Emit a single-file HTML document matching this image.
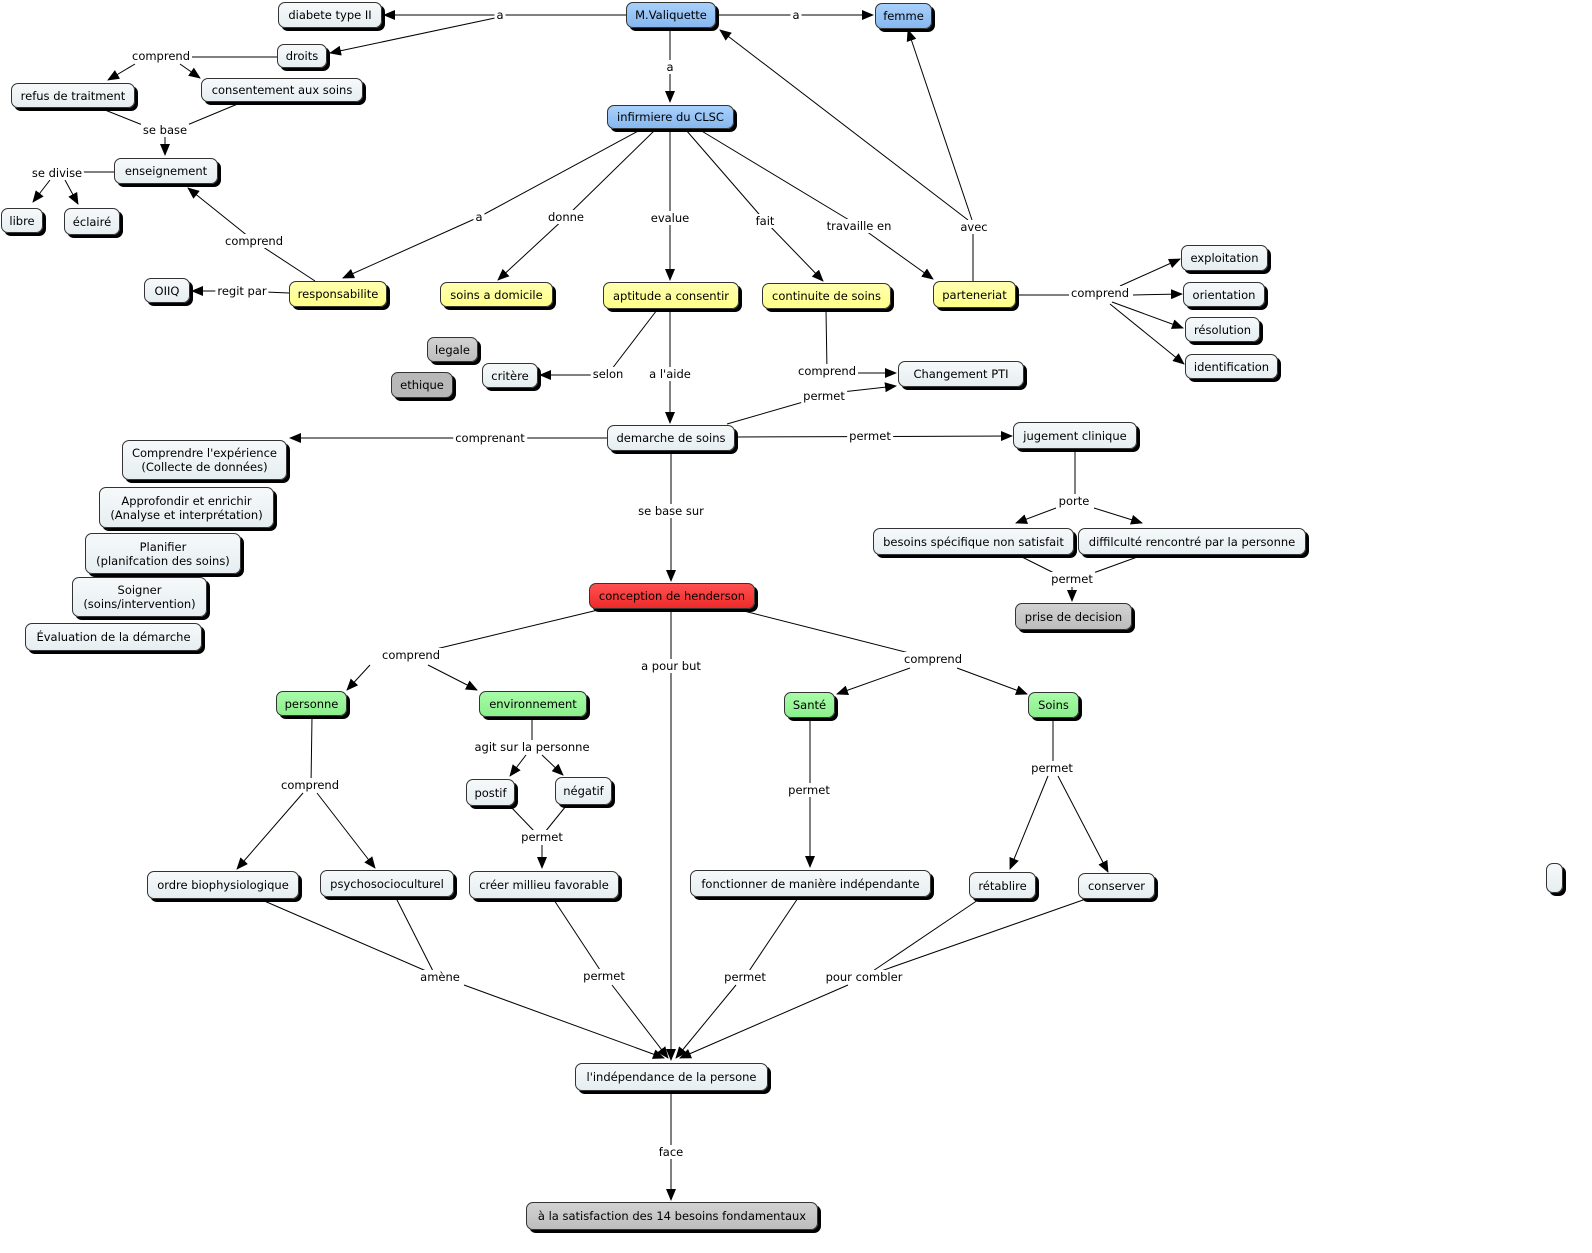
<!DOCTYPE html>
<html><head><meta charset="utf-8"><style>
body{margin:0;width:1592px;height:1253px;background:#fff;position:relative;overflow:hidden;font-family:"DejaVu Sans","Liberation Sans",sans-serif;font-size:11.5px;color:#000}
svg{position:absolute;left:0;top:0}
.n{position:absolute;box-sizing:border-box;border:1px solid #333;border-radius:7px;box-shadow:3px 3px 0 #000;display:flex;align-items:center;justify-content:center;text-align:center;line-height:14px;background:linear-gradient(#f6f9fa,#e6eef1);white-space:nowrap}
.b{background:linear-gradient(#a8d0fb,#86b8ef)}
.y{background:linear-gradient(#ffffb0,#ffff88)}
.g{background:linear-gradient(#a8fba8,#8bef8b)}
.r{background:linear-gradient(#ff5050,#ee2a2a)}
.gr{background:linear-gradient(#d2d2d2,#bdbdbd)}
.l{position:absolute;background:#fff;transform:translate(-50%,-50%);padding:0 2px;white-space:nowrap;line-height:14px}
</style></head><body>
<svg width="1592" height="1253">
<defs><marker id="a" markerUnits="userSpaceOnUse" markerWidth="12" markerHeight="10" refX="11" refY="5" orient="auto"><path d="M0,0L12,5L0,10z" fill="#000"/></marker></defs>
<g stroke="#000" stroke-width="1" fill="none">
<line x1="626" y1="15" x2="384" y2="15" marker-end="url(#a)"/>
<line x1="495" y1="18" x2="330" y2="53" marker-end="url(#a)"/>
<line x1="716" y1="15" x2="873" y2="15" marker-end="url(#a)"/>
<line x1="670" y1="29" x2="670" y2="102" marker-end="url(#a)"/>
<line x1="277" y1="57" x2="190" y2="57"/>
<line x1="135" y1="64" x2="108" y2="80" marker-end="url(#a)"/>
<line x1="180" y1="64" x2="200" y2="78" marker-end="url(#a)"/>
<line x1="100" y1="108" x2="150" y2="128"/>
<line x1="240" y1="103" x2="180" y2="128"/>
<line x1="165" y1="130" x2="165" y2="155" marker-end="url(#a)"/>
<line x1="114" y1="172" x2="60" y2="172"/>
<line x1="50" y1="180" x2="33" y2="202" marker-end="url(#a)"/>
<line x1="65" y1="180" x2="78" y2="204" marker-end="url(#a)"/>
<line x1="315" y1="281" x2="254" y2="241"/>
<line x1="254" y1="241" x2="188" y2="188" marker-end="url(#a)"/>
<line x1="289" y1="293" x2="242" y2="291"/>
<line x1="242" y1="291" x2="192" y2="291" marker-end="url(#a)"/>
<line x1="640" y1="130" x2="479" y2="217"/>
<line x1="479" y1="217" x2="343" y2="278" marker-end="url(#a)"/>
<line x1="655" y1="130" x2="566" y2="217"/>
<line x1="566" y1="217" x2="498" y2="280" marker-end="url(#a)"/>
<line x1="670" y1="130" x2="670" y2="280" marker-end="url(#a)"/>
<line x1="686" y1="130" x2="765" y2="221"/>
<line x1="765" y1="221" x2="823" y2="281" marker-end="url(#a)"/>
<line x1="700" y1="130" x2="859" y2="226"/>
<line x1="859" y1="226" x2="933" y2="279" marker-end="url(#a)"/>
<line x1="973" y1="281" x2="973" y2="227"/>
<line x1="968" y1="220" x2="720" y2="30" marker-end="url(#a)"/>
<line x1="972" y1="220" x2="908" y2="30" marker-end="url(#a)"/>
<line x1="1016" y1="295" x2="1100" y2="295"/>
<line x1="1120" y1="286" x2="1180" y2="259" marker-end="url(#a)"/>
<line x1="1133" y1="295" x2="1182" y2="294" marker-end="url(#a)"/>
<line x1="1112" y1="302" x2="1183" y2="328" marker-end="url(#a)"/>
<line x1="1110" y1="304" x2="1184" y2="364" marker-end="url(#a)"/>
<line x1="657" y1="310" x2="608" y2="374"/>
<line x1="608" y1="375" x2="540" y2="375" marker-end="url(#a)"/>
<line x1="670" y1="310" x2="670" y2="423" marker-end="url(#a)"/>
<line x1="826" y1="310" x2="827" y2="371"/>
<line x1="827" y1="373" x2="896" y2="373" marker-end="url(#a)"/>
<line x1="727" y1="424" x2="824" y2="396"/>
<line x1="824" y1="394" x2="896" y2="386" marker-end="url(#a)"/>
<line x1="607" y1="438" x2="290" y2="438" marker-end="url(#a)"/>
<line x1="735" y1="437" x2="1012" y2="436" marker-end="url(#a)"/>
<line x1="1075" y1="450" x2="1075" y2="500"/>
<line x1="1056" y1="508" x2="1016" y2="523" marker-end="url(#a)"/>
<line x1="1094" y1="508" x2="1142" y2="523" marker-end="url(#a)"/>
<line x1="1020" y1="556" x2="1060" y2="576"/>
<line x1="1140" y1="556" x2="1085" y2="576"/>
<line x1="1072" y1="587" x2="1072" y2="601" marker-end="url(#a)"/>
<line x1="671" y1="452" x2="671" y2="581" marker-end="url(#a)"/>
<line x1="598" y1="610" x2="411" y2="655"/>
<line x1="370" y1="665" x2="347" y2="690" marker-end="url(#a)"/>
<line x1="428" y1="665" x2="477" y2="690" marker-end="url(#a)"/>
<line x1="671" y1="610" x2="671" y2="1060" marker-end="url(#a)"/>
<line x1="740" y1="610" x2="933" y2="659"/>
<line x1="910" y1="668" x2="837" y2="694" marker-end="url(#a)"/>
<line x1="957" y1="668" x2="1027" y2="694" marker-end="url(#a)"/>
<line x1="312" y1="717" x2="311" y2="785"/>
<line x1="303" y1="793" x2="237" y2="869" marker-end="url(#a)"/>
<line x1="317" y1="793" x2="375" y2="868" marker-end="url(#a)"/>
<line x1="532" y1="718" x2="532" y2="745"/>
<line x1="526" y1="755" x2="510" y2="776" marker-end="url(#a)"/>
<line x1="542" y1="755" x2="563" y2="775" marker-end="url(#a)"/>
<line x1="510" y1="806" x2="535" y2="832"/>
<line x1="566" y1="806" x2="545" y2="832"/>
<line x1="542" y1="845" x2="542" y2="868" marker-end="url(#a)"/>
<line x1="810" y1="719" x2="810" y2="867" marker-end="url(#a)"/>
<line x1="1053" y1="719" x2="1053" y2="765"/>
<line x1="1048" y1="776" x2="1010" y2="869" marker-end="url(#a)"/>
<line x1="1058" y1="776" x2="1108" y2="872" marker-end="url(#a)"/>
<line x1="262" y1="900" x2="440" y2="977"/>
<line x1="396" y1="898" x2="435" y2="975"/>
<line x1="464" y1="985" x2="664" y2="1058" marker-end="url(#a)"/>
<line x1="554" y1="900" x2="604" y2="976"/>
<line x1="612" y1="985" x2="668" y2="1058" marker-end="url(#a)"/>
<line x1="798" y1="898" x2="745" y2="977"/>
<line x1="736" y1="985" x2="676" y2="1058" marker-end="url(#a)"/>
<line x1="978" y1="900" x2="864" y2="977"/>
<line x1="1083" y1="900" x2="864" y2="977"/>
<line x1="848" y1="985" x2="680" y2="1058" marker-end="url(#a)"/>
<line x1="671" y1="1092" x2="671" y2="1200" marker-end="url(#a)"/>
</g></svg>

<div class="l" style="left:500px;top:15px">a</div>
<div class="l" style="left:796px;top:15px">a</div>
<div class="l" style="left:670px;top:67px">a</div>
<div class="l" style="left:161px;top:56px">comprend</div>
<div class="l" style="left:165px;top:130px">se base</div>
<div class="l" style="left:57px;top:173px">se divise</div>
<div class="l" style="left:254px;top:241px">comprend</div>
<div class="l" style="left:242px;top:291px">regit par</div>
<div class="l" style="left:479px;top:217px">a</div>
<div class="l" style="left:566px;top:217px">donne</div>
<div class="l" style="left:670px;top:218px">evalue</div>
<div class="l" style="left:765px;top:221px">fait</div>
<div class="l" style="left:859px;top:226px">travaille en</div>
<div class="l" style="left:974px;top:227px">avec</div>
<div class="l" style="left:1100px;top:293px">comprend</div>
<div class="l" style="left:608px;top:374px">selon</div>
<div class="l" style="left:670px;top:374px">a l'aide</div>
<div class="l" style="left:827px;top:371px">comprend</div>
<div class="l" style="left:824px;top:396px">permet</div>
<div class="l" style="left:490px;top:438px">comprenant</div>
<div class="l" style="left:870px;top:436px">permet</div>
<div class="l" style="left:1074px;top:501px">porte</div>
<div class="l" style="left:671px;top:511px">se base sur</div>
<div class="l" style="left:1072px;top:579px">permet</div>
<div class="l" style="left:411px;top:655px">comprend</div>
<div class="l" style="left:671px;top:666px">a pour but</div>
<div class="l" style="left:933px;top:659px">comprend</div>
<div class="l" style="left:532px;top:747px">agit sur la personne</div>
<div class="l" style="left:310px;top:785px">comprend</div>
<div class="l" style="left:809px;top:790px">permet</div>
<div class="l" style="left:1052px;top:768px">permet</div>
<div class="l" style="left:542px;top:837px">permet</div>
<div class="l" style="left:440px;top:977px">amène</div>
<div class="l" style="left:604px;top:976px">permet</div>
<div class="l" style="left:745px;top:977px">permet</div>
<div class="l" style="left:864px;top:977px">pour combler</div>
<div class="l" style="left:671px;top:1152px">face</div>

<div class="n" style="left:278px;top:2px;width:104px;height:26px">diabete type II</div>
<div class="n b" style="left:626px;top:2px;width:90px;height:26px">M.Valiquette</div>
<div class="n b" style="left:875px;top:3px;width:57px;height:26px">femme</div>
<div class="n" style="left:277px;top:44px;width:50px;height:24px">droits</div>
<div class="n" style="left:11px;top:83px;width:124px;height:25px">refus de traitment</div>
<div class="n" style="left:201px;top:78px;width:162px;height:24px">consentement aux soins</div>
<div class="n b" style="left:607px;top:105px;width:127px;height:24px">infirmiere du CLSC</div>
<div class="n" style="left:114px;top:158px;width:104px;height:26px">enseignement</div>
<div class="n" style="left:1px;top:208px;width:42px;height:25px">libre</div>
<div class="n" style="left:64px;top:208px;width:56px;height:27px">éclairé</div>
<div class="n" style="left:1181px;top:245px;width:87px;height:26px">exploitation</div>
<div class="n" style="left:144px;top:278px;width:46px;height:25px">OIIQ</div>
<div class="n y" style="left:289px;top:281px;width:98px;height:26px">responsabilite</div>
<div class="n y" style="left:440px;top:282px;width:113px;height:25px">soins a domicile</div>
<div class="n y" style="left:603px;top:282px;width:136px;height:27px">aptitude a consentir</div>
<div class="n y" style="left:762px;top:283px;width:129px;height:26px">continuite de soins</div>
<div class="n y" style="left:933px;top:281px;width:83px;height:27px">parteneriat</div>
<div class="n" style="left:1183px;top:282px;width:82px;height:25px">orientation</div>
<div class="n" style="left:1185px;top:317px;width:75px;height:25px">résolution</div>
<div class="n" style="left:1185px;top:354px;width:93px;height:25px">identification</div>
<div class="n gr" style="left:427px;top:337px;width:51px;height:25px">legale</div>
<div class="n gr" style="left:391px;top:372px;width:62px;height:26px;background:#b8b8b8">ethique</div>
<div class="n" style="left:482px;top:363px;width:56px;height:25px">critère</div>
<div class="n" style="left:898px;top:361px;width:126px;height:26px">Changement PTI</div>
<div class="n" style="left:607px;top:425px;width:128px;height:26px">demarche de soins</div>
<div class="n" style="left:1013px;top:422px;width:124px;height:27px">jugement clinique</div>
<div class="n" style="left:122px;top:440px;width:165px;height:40px">Comprendre l'expérience<br>(Collecte de données)</div>
<div class="n" style="left:99px;top:487px;width:175px;height:41px">Approfondir et enrichir<br>(Analyse et interprétation)</div>
<div class="n" style="left:85px;top:533px;width:156px;height:41px">Planifier<br>(planifcation des soins)</div>
<div class="n" style="left:72px;top:577px;width:135px;height:40px">Soigner<br>(soins/intervention)</div>
<div class="n" style="left:25px;top:623px;width:177px;height:28px">Évaluation de la démarche</div>
<div class="n" style="left:873px;top:528px;width:201px;height:27px">besoins spécifique non satisfait</div>
<div class="n" style="left:1078px;top:528px;width:228px;height:27px">diffilculté rencontré par la personne</div>
<div class="n r" style="left:589px;top:583px;width:166px;height:26px">conception de henderson</div>
<div class="n gr" style="left:1015px;top:603px;width:117px;height:27px">prise de decision</div>
<div class="n g" style="left:276px;top:691px;width:71px;height:25px">personne</div>
<div class="n g" style="left:479px;top:691px;width:108px;height:26px">environnement</div>
<div class="n g" style="left:784px;top:692px;width:51px;height:26px">Santé</div>
<div class="n g" style="left:1028px;top:692px;width:51px;height:26px">Soins</div>
<div class="n" style="left:466px;top:779px;width:49px;height:27px">postif</div>
<div class="n" style="left:555px;top:777px;width:57px;height:28px">négatif</div>
<div class="n" style="left:147px;top:871px;width:152px;height:28px">ordre biophysiologique</div>
<div class="n" style="left:320px;top:870px;width:134px;height:27px">psychosocioculturel</div>
<div class="n" style="left:469px;top:871px;width:150px;height:28px">créer millieu favorable</div>
<div class="n" style="left:690px;top:870px;width:241px;height:27px">fonctionner de manière indépendante</div>
<div class="n" style="left:969px;top:872px;width:67px;height:27px">rétablire</div>
<div class="n" style="left:1078px;top:873px;width:77px;height:26px">conserver</div>
<div class="n" style="left:1546px;top:863px;width:17px;height:30px"></div>
<div class="n" style="left:575px;top:1063px;width:193px;height:28px">l'indépendance de la persone</div>
<div class="n gr" style="left:526px;top:1202px;width:292px;height:28px">à la satisfaction des 14 besoins fondamentaux</div>
</body></html>
